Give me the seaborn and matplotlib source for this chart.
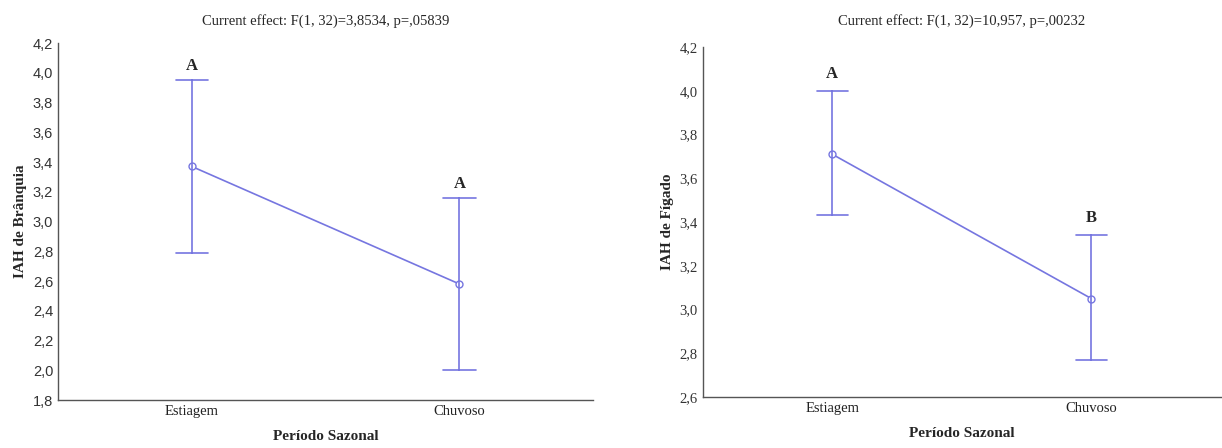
import numpy as np
import pandas as pd
import matplotlib
matplotlib.use("Agg")
import matplotlib.pyplot as plt
import matplotlib.ticker as mticker
import seaborn as sns

# ---- data
periods = ["Estiagem", "Chuvoso"]
letters_branquia = ["A", "A"]
letters_figado = ["A", "B"]

branquia_mean = [3.37, 2.58]
branquia_lo = [2.79, 2.00]
branquia_hi = [3.95, 3.16]

figado_mean = [3.71, 3.05]
figado_lo = [3.43, 2.77]
figado_hi = [4.00, 3.34]

title_branquia = "Current effect: F(1, 32)=3,8534, p=,05839"
title_figado = "Current effect: F(1, 32)=10,957, p=,00232"

LINE = "#7676e0"
SERIF = "Liberation Serif"

sns.set_style("white")
plt.rcParams["font.family"] = [SERIF, "DejaVu Sans"]


def long_table(mean, lo, hi):
    # lo / mean / hi per category -> median gives mean, pi 100 gives lo..hi
    rows = []
    for p, m, l, h in zip(periods, mean, lo, hi):
        for v in (l, m, h):
            rows.append({"periodo": p, "valor": v})
    return pd.DataFrame(rows)


def panel(ax, mean, lo, hi, letters, ylabel, title, ylim, tickfont, title_pad):
    data = long_table(mean, lo, hi)
    sns.pointplot(data=data, x="periodo", y="valor", order=periods, ax=ax,
                  estimator="median", errorbar=("pi", 100), capsize=0.12,
                  color=LINE, linewidth=1.2, markers="o", markersize=5,
                  markerfacecolor="white", markeredgewidth=1.0,
                  err_kws={"linewidth": 1.2})
    for i, (h, let) in enumerate(zip(hi, letters)):
        ax.text(i, h + 0.04, let, ha="center", va="bottom",
                fontweight="bold", fontsize=12, family=SERIF)
    ax.set_ylim(*ylim)
    ax.set_xlim(-0.5, 1.5)
    ax.yaxis.set_major_locator(mticker.MultipleLocator(0.2))
    ax.yaxis.set_major_formatter(mticker.FuncFormatter(lambda v, _: f"{v:.1f}".replace(".", ",")))
    ax.set_ylabel(ylabel, fontweight="bold", fontsize=11, family=SERIF)
    ax.set_xlabel("Período Sazonal", fontweight="bold", fontsize=11, family=SERIF, labelpad=9)
    ax.set_title(title, fontsize=10.5, family=SERIF, pad=title_pad)
    for lab in ax.get_yticklabels():
        lab.set_family(tickfont)
        lab.set_color("#333333")
    for lab in ax.get_xticklabels():
        lab.set_family(SERIF)
        lab.set_color("#222222")
    ax.tick_params(axis="both", direction="in", length=3, labelsize=10.5, color="#555555")
    sns.despine(ax=ax)
    for s in ("left", "bottom"):
        ax.spines[s].set_color("#555555")
        ax.spines[s].set_linewidth(1.0)


fig = plt.figure(figsize=(12.22, 4.48), dpi=100)
ax1 = fig.add_axes([0.0475, 0.107, 0.438, 0.797])
ax2 = fig.add_axes([0.575, 0.114, 0.424, 0.781])

panel(ax1, branquia_mean, branquia_lo, branquia_hi, letters_branquia,
      "IAH de Brânquia", title_branquia, (1.8, 4.2), "Liberation Sans", 13)
panel(ax2, figado_mean, figado_lo, figado_hi, letters_figado,
      "IAH de Fígado", title_figado, (2.6, 4.2), SERIF, 16)

fig.savefig("out.png", dpi=100)
